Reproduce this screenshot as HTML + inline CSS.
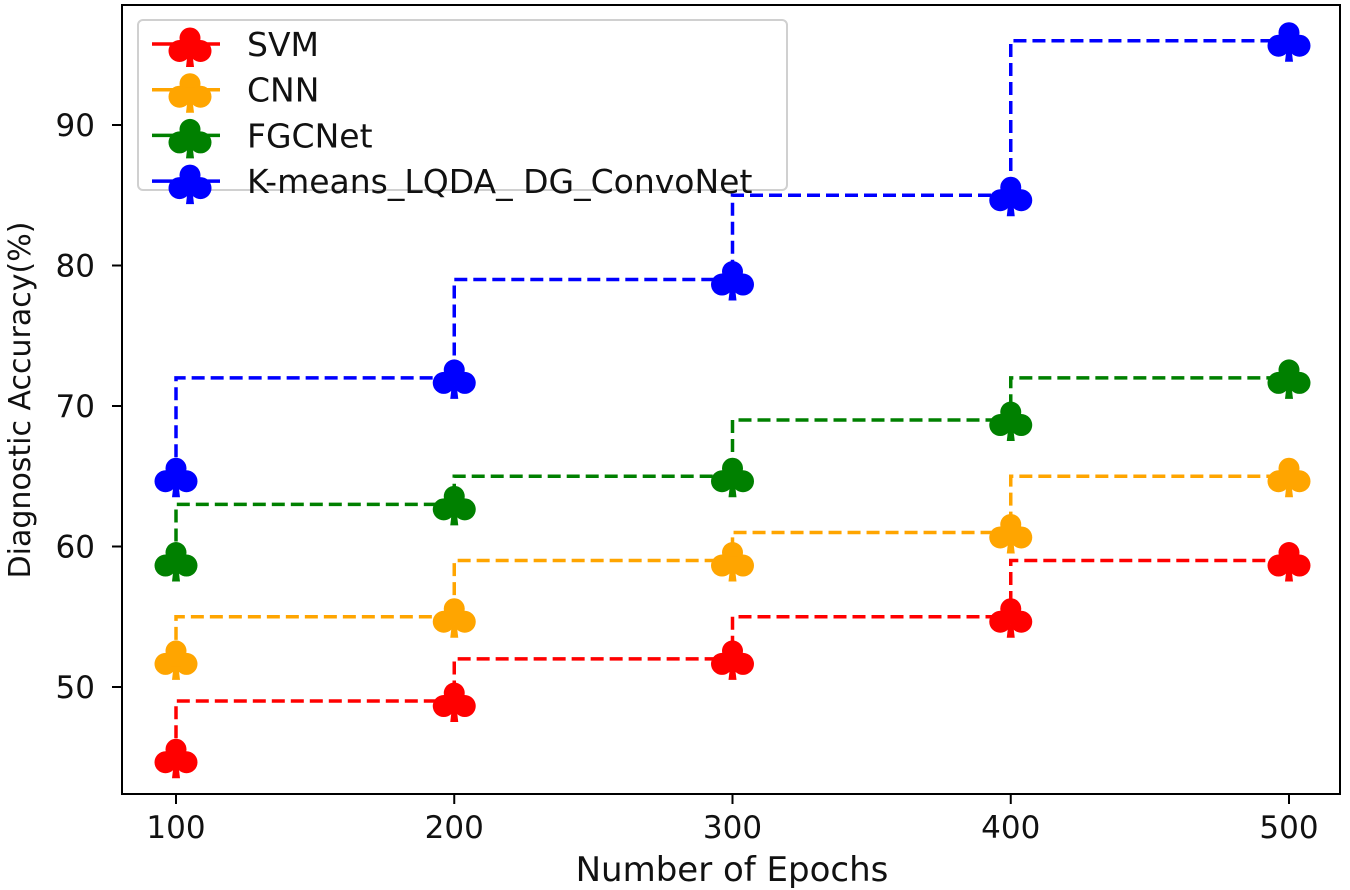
<!DOCTYPE html>
<html><head><meta charset="utf-8"><style>
html,body{margin:0;padding:0;background:#fff}
svg{display:block}
text{font-family:"DejaVu Sans","Liberation Sans",sans-serif;fill:#111}
</style></head><body>
<svg id="chart" width="1350" height="890">
<defs>
<symbol id="club" viewBox="-22 -22 44 44" overflow="visible">
<circle cx="0" cy="-8" r="10.5"/><circle cx="-10.5" cy="5" r="11"/><circle cx="10.5" cy="5" r="11"/>
<rect x="-5" y="-4" width="10" height="12"/>
<path d="M-2.5 8 L2.5 8 L4 21 L-4 21 Z"/>
</symbol>
</defs>
<g id="marks"></g>
<rect x="122" y="5" width="1218" height="789" fill="none" stroke="#000" stroke-width="2"/>
<g id="axes"></g>
<text x="732" y="881" font-size="34" text-anchor="middle">Number of Epochs</text>
<text transform="translate(30,400) rotate(-90)" font-size="30" text-anchor="middle">Diagnostic Accuracy(%)</text>
<g id="legend"></g>
</svg>
<script>
const epochs=[100,200,300,400,500];
const svmValues=[45,49,52,55,59];
const cnnValues=[52,55,59,61,65];
const fgcnetValues=[59,63,65,69,72];
const proposedValues=[65,72,79,85,96];
const seriesNames=["SVM","CNN","FGCNet","K-means_LQDA_ DG_ConvoNet"];
const seriesColors=["#ff0000","#ffa500","#008000","#0000ff"];
const yTicks=[50,60,70,80,90];
const xTicks=[100,200,300,400,500];
const NS="http://www.w3.org/2000/svg";
function xs(v){return 176+(v-100)*(1289-176)/400;}
function ys(v){return 687-(v-50)*(687-125)/40;}
function mk(tag,attrs,parent){const e=document.createElementNS(NS,tag);for(const k in attrs)e.setAttribute(k,attrs[k]);parent.appendChild(e);return e;}
const marks=document.getElementById('marks'),axes=document.getElementById('axes'),legend=document.getElementById('legend');
const all=[svmValues,cnnValues,fgcnetValues,proposedValues];
all.forEach((vals,s)=>{
  let d="M"+xs(epochs[0])+" "+ys(vals[0]);
  for(let i=1;i<vals.length;i++){d+=" L"+xs(epochs[i-1])+" "+ys(vals[i])+" L"+xs(epochs[i])+" "+ys(vals[i]);}
  const p=mk('path',{d:d,fill:'none',stroke:seriesColors[s],'stroke-width':3.5,'stroke-dasharray':'13,6'},marks);
  
  
  vals.forEach((v,i)=>{
    const u=mk('use',{href:'#club',x:xs(epochs[i])-22,y:ys(v)-22,width:44,height:44,fill:seriesColors[s]},marks);
    
    
  });
});
yTicks.forEach(t=>{
  const y=ys(t);
  mk('line',{x1:112,x2:122,y1:y,y2:y,stroke:'#000','stroke-width':2},axes);
  const tx=mk('text',{x:95,y:y+11,'font-size':31,'text-anchor':'end'},axes);tx.textContent=t;
  
  
});
xTicks.forEach(t=>{
  const x=xs(t);
  mk('line',{x1:x,x2:x,y1:794,y2:804,stroke:'#000','stroke-width':2},axes);
  const tx=mk('text',{x:x,y:838,'font-size':31,'text-anchor':'middle'},axes);tx.textContent=t;
  
  
});
mk('rect',{x:138,y:20,width:649,height:170,rx:5,fill:'#fff','fill-opacity':0.85,stroke:'#d0d0d0','stroke-width':2},legend);
seriesNames.forEach((n,i)=>{
  const y=44+i*45.7;
  const g=mk('g',{},legend);
  
  
  mk('line',{x1:152,x2:220,y1:y,y2:y,stroke:seriesColors[i],'stroke-width':3.5},g);
  mk('use',{href:'#club',x:168,y:y-20,width:44,height:44,fill:seriesColors[i]},g);
  const t=mk('text',{x:247,y:y+12,'font-size':33},g);t.textContent=n;
});
</script>
</body></html>
